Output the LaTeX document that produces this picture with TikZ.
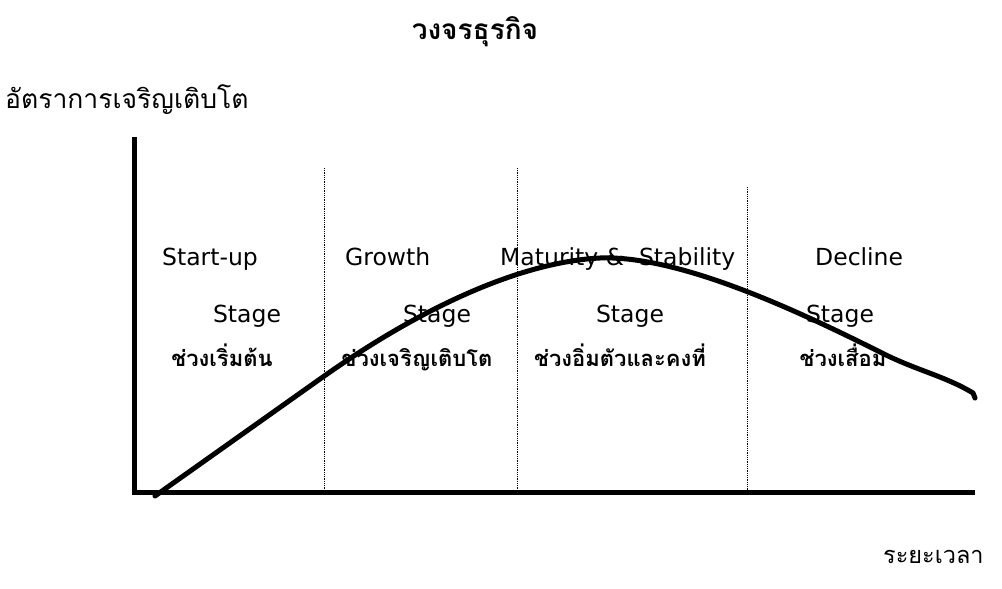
\documentclass[tikz,border=0pt]{standalone}
\usepackage{fontspec}
\setmainfont{DejaVu Sans}
\newfontfamily\thai[Script=Thai]{Loma}
\begin{document}
\begin{tikzpicture}[x=1pt,y=-1pt,
  axisline/.style={line width=5pt},
  divider/.style={line width=0.8pt,densely dotted},
  curveline/.style={line width=5pt,line cap=round,line join=round},
  enlab/.style={anchor=base,inner sep=0pt,font=\fontsize{23.5}{26}\selectfont},
  thlab/.style={anchor=base,inner sep=0pt,font=\thai\bfseries\fontsize{22}{26}\selectfont},
  thplain/.style={anchor=base west,inner sep=0pt,font=\thai\fontsize{26.5}{30}\selectfont}]
\useasboundingbox (0,0) rectangle (1002,589);
% title and axis labels
\node[anchor=base,inner sep=0pt,font=\thai\bfseries\fontsize{28}{32}\selectfont] (title) at (475,39) {วงจรธุรกิจ};
\node[thplain] (ylab) at (5,108) {อัตราการเจริญเติบโต};
\node[thplain,font=\thai\fontsize{23.5}{27}\selectfont] (xlab) at (883,563) {ระยะเวลา};
% axes
\coordinate (ytop) at (134,137);
\coordinate (orig) at (134,492);
\coordinate (xend) at (975,492);
\draw[axisline] (ytop) -- (134,494.5);
\draw[axisline] (131.5,492) -- (xend);
% stage dividers
\coordinate (d1t) at (324,168); \coordinate (d1b) at (324,490);
\coordinate (d2t) at (517,168); \coordinate (d2b) at (517,490);
\coordinate (d3t) at (747,187); \coordinate (d3b) at (747,490);
\draw[divider] (d1t) -- (d1b);
\draw[divider] (d2t) -- (d2b);
\draw[divider] (d3t) -- (d3b);
% stage names
\node[enlab,anchor=base west] (s1) at (162,265) {Start-up};
\node[enlab,anchor=base west] (s2) at (345,265) {Growth};
\node[enlab,anchor=base west] (s3) at (500,265) {Maturity \&\ \ Stability};
\node[enlab,anchor=base west] (s4) at (815,265) {Decline};
\node[enlab] (g1) at (247,322) {Stage};
\node[enlab] (g2) at (437,322) {Stage};
\node[enlab] (g3) at (630,322) {Stage};
\node[enlab] (g4) at (840,322) {Stage};
\node[thlab] (t1) at (222,366) {ช่วงเริ่มต้น};
\node[thlab] (t2) at (417,366) {ช่วงเจริญเติบโต};
\node[thlab] (t3) at (620,366) {ช่วงอิ่มตัวและคงที่};
\node[thlab] (t4) at (843,366) {ช่วงเสื่อม};
% life-cycle curve
\draw[curveline] (155,496) -- (320,379)
  .. controls (420,308) and (520,262) .. (600,258)
  .. controls (680,255) and (800,312) .. (880,352)
  .. controls (915,370) and (945,376) .. (973,393) -- (975,398);
\end{tikzpicture}
\end{document}
